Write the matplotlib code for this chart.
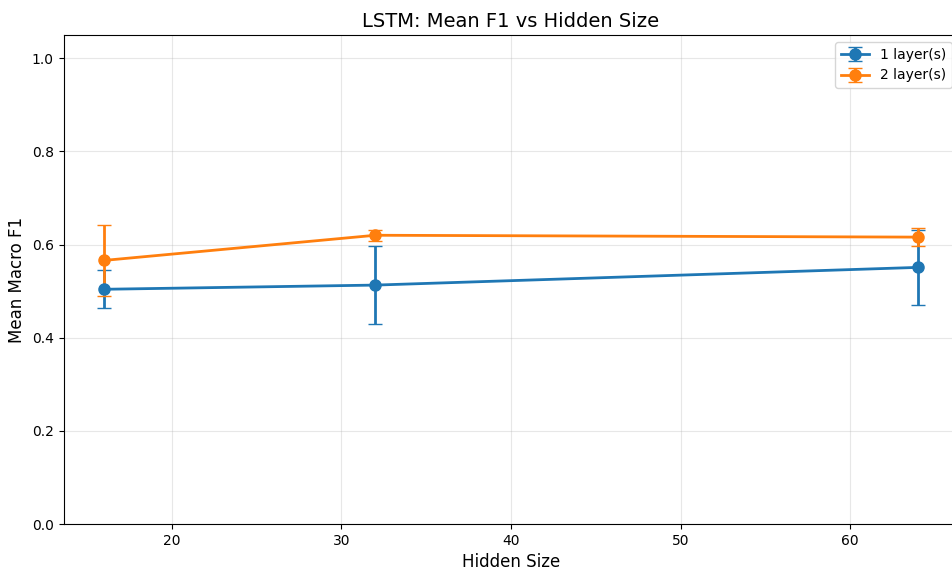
import matplotlib

matplotlib.use("Agg")
import matplotlib.pyplot as plt

# Mean macro F1 (with std) per hidden size, one series per layer count.
HIDDEN_SIZES = [16, 32, 64]
F1_1_LAYER = [0.504, 0.513, 0.551]
STD_1_LAYER = [0.041, 0.084, 0.081]
F1_2_LAYER = [0.566, 0.620, 0.616]
STD_2_LAYER = [0.076, 0.012, 0.019]
LAYER_LABELS = ["1 layer(s)", "2 layer(s)"]

fig = plt.figure(figsize=(9.52, 5.72), dpi=100)
ax = fig.add_axes([63.5 / 952, 48 / 572, 895 / 952, 489 / 572])

for f1, std, label in ((F1_1_LAYER, STD_1_LAYER, LAYER_LABELS[0]),
                       (F1_2_LAYER, STD_2_LAYER, LAYER_LABELS[1])):
    ax.errorbar(HIDDEN_SIZES, f1, yerr=std, marker="o", markersize=8,
                linewidth=2, capsize=5, label=label)

ax.set_ylim(0, 1.05)
ax.set_xlabel("Hidden Size", fontsize=12)
ax.set_ylabel("Mean Macro F1", fontsize=12)
ax.set_title("LSTM: Mean F1 vs Hidden Size", fontsize=14)
ax.legend(loc="upper right")
ax.grid(True, alpha=0.3)

fig.savefig("out.png", dpi=100)
